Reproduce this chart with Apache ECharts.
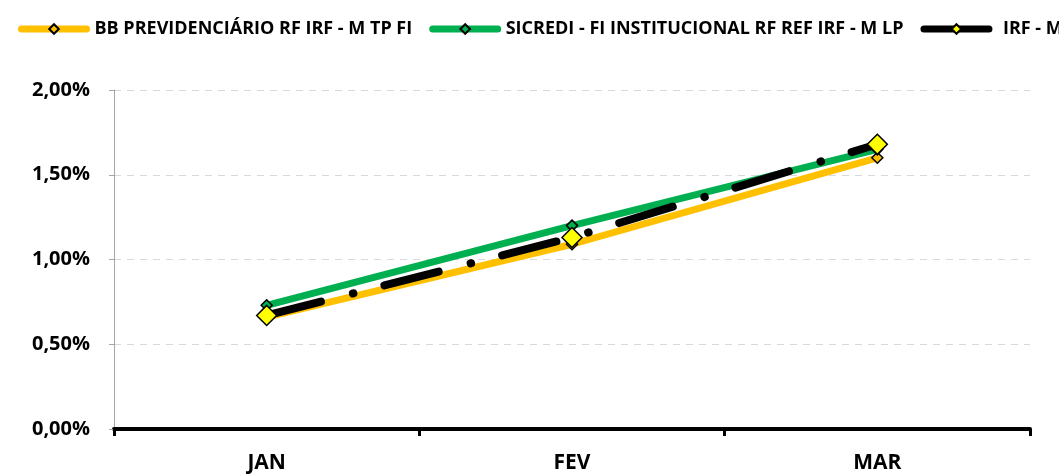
<!DOCTYPE html>
<html>
<head>
<meta charset="utf-8">
<script src="https://cdn.jsdelivr.net/npm/echarts@6/dist/echarts.min.js"></script>
<style>html,body{margin:0;padding:0;background:#fff;}#c{width:1059px;height:475px;}</style>
</head>
<body>
<div id="c"></div>
<script>
const categories = ['JAN', 'FEV', 'MAR'];
const seriesNames = ['BB PREVIDENCIÁRIO RF IRF - M TP FI', 'SICREDI - FI INSTITUCIONAL RF REF IRF - M LP', 'IRF - M'];
const bbValues = [0.66, 1.09, 1.60];
const sicrediValues = [0.73, 1.20, 1.65];
const irfmValues = [0.67, 1.13, 1.68];
const yTicks = [0, 0.5, 1.0, 1.5, 2.0];

const chart = echarts.init(document.getElementById('c'), null, {renderer: 'canvas'});
const font = '"Open Sans", "Liberation Sans", sans-serif';
chart.setOption({
  animation: false,
  backgroundColor: '#fff',
  legend: {
    left: 13, top: 15, width: 1400,
    itemWidth: 65, itemHeight: 12, itemGap: 17,
    lineStyle: {width: 7, cap: 'round', type: 'solid'},
    textStyle: {fontFamily: font, fontWeight: 'bold', fontSize: 18, color: '#000', padding: [0, 0, 0, 3]},
    data: seriesNames.map((n, i) => i === 2 ? {name: n, textStyle: {padding: [0, 0, 0, 9]}} : {name: n})
  },
  grid: {left: 114, right: 29, top: 90, bottom: 46, containLabel: false},
  xAxis: {
    type: 'category', data: categories, boundaryGap: true,
    axisLine: {lineStyle: {color: '#000', width: 4}},
    axisTick: {show: true, length: 7, lineStyle: {color: '#000', width: 3}, alignWithLabel: false},
    axisLabel: {fontFamily: font, fontWeight: 'bold', fontSize: 21, color: '#000', margin: 24}
  },
  yAxis: {
    type: 'value', min: 0, max: 2, interval: 0.5,
    axisLine: {show: true, lineStyle: {color: '#a6a6a6', width: 1}},
    axisTick: {show: true, length: 5, lineStyle: {color: '#a6a6a6'}},
    splitLine: {show: true, lineStyle: {color: '#d9d9d9', type: [7, 6], width: 1}},
    axisLabel: {
      fontFamily: font, fontWeight: 'bold', fontSize: 20, color: '#000', margin: 24,
      formatter: v => v.toFixed(2).replace('.', ',') + '%'
    }
  },
  series: [
    {
      name: seriesNames[0], type: 'line', data: bbValues, z: 2,
      lineStyle: {color: '#ffc000', width: 7, cap: 'round'},
      itemStyle: {color: '#ffc000', borderColor: '#000', borderWidth: 1.5},
      symbol: 'diamond', symbolSize: 11, showSymbol: true
    },
    {
      name: seriesNames[1], type: 'line', data: sicrediValues, z: 3,
      lineStyle: {color: '#00b050', width: 7, cap: 'round'},
      itemStyle: {color: '#00b050', borderColor: '#000', borderWidth: 1.5},
      symbol: 'diamond', symbolSize: 11, showSymbol: true
    },
    {
      name: seriesNames[2], type: 'line', data: irfmValues, z: 4,
      lineStyle: {color: '#000', width: 8, cap: 'round', type: [56, 33, 0.5, 32]},
      itemStyle: {color: '#ffff00', borderColor: '#000', borderWidth: 1.5},
      symbol: 'diamond', symbolSize: 20, showSymbol: true
    }
  ]
});
</script>
</body>
</html>
